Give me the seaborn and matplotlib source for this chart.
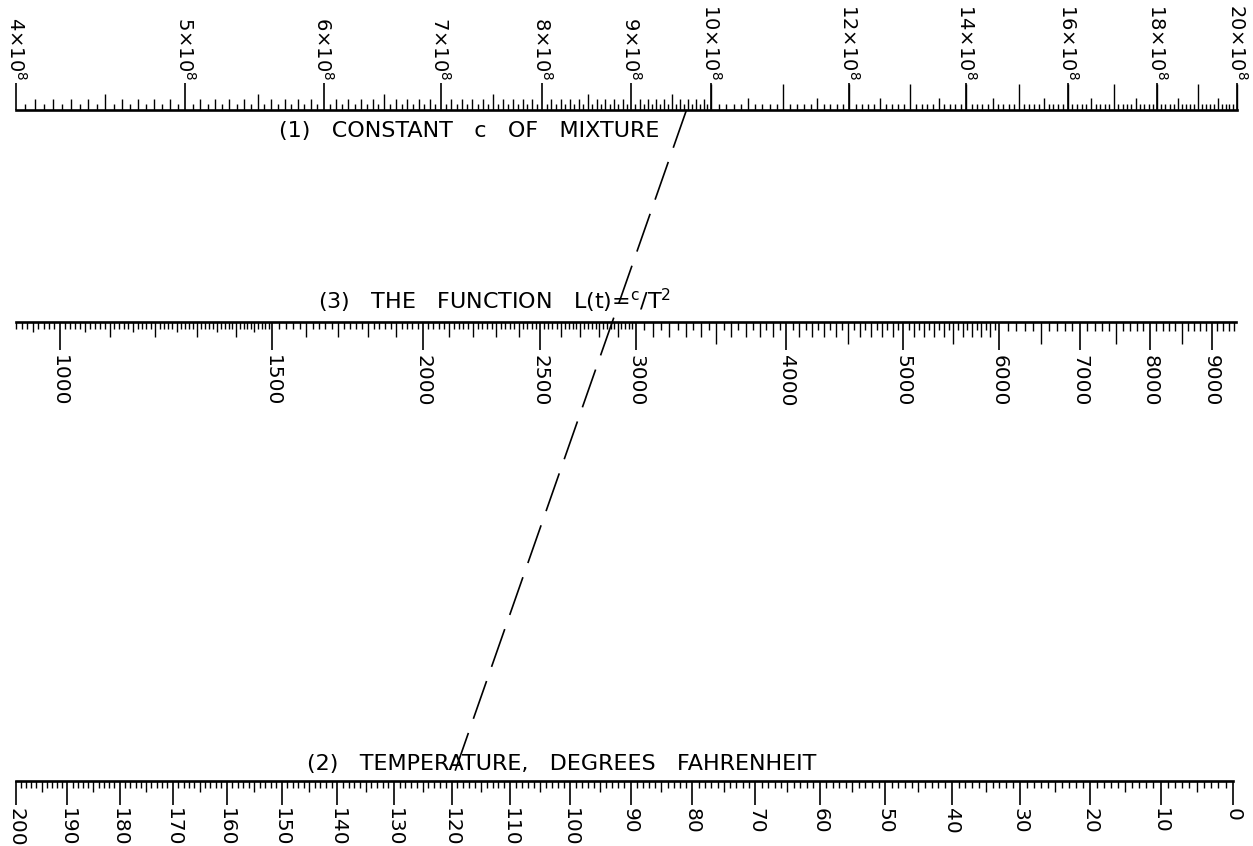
import numpy as np
import pandas as pd
import matplotlib
matplotlib.use("Agg")
import matplotlib.pyplot as plt
from matplotlib.ticker import NullLocator
import seaborn as sns

# ---------------- data ----------------
# Scale (1): constant c of mixture, in units of 10^8, log scale
C_LABELS = [4, 5, 6, 7, 8, 9, 10, 12, 14, 16, 18, 20]
C_LIMITS = [4, 20]
# Scale (3): the function L(t) = c / T^2, log scale
L_LABELS = [1000, 1500, 2000, 2500, 3000, 4000, 5000, 6000, 7000, 8000, 9000]
L_LIMITS = [920, 9430]
# Scale (2): temperature, degrees Fahrenheit (scale ~ log of absolute temperature)
T_LABELS = [200, 190, 180, 170, 160, 150, 140, 130, 120, 110, 100,
            90, 80, 70, 60, 50, 40, 30, 20, 10, 0]
T_LIMITS = [200, 0]
# the worked example drawn as a dashed isopleth
C_KEY = 9.68     # x 10^8
T_KEY = 120      # deg F

TITLE_1 = "(1)   CONSTANT   c   OF   MIXTURE"
TITLE_3 = "(3)   THE   FUNCTION   L(t)=$^{c}$/T$^{2}$"
TITLE_2 = "(2)   TEMPERATURE,   DEGREES   FAHRENHEIT"

# ---------------- style ----------------
sns.set_theme(style="white")
plt.rcParams["font.family"] = ["DejaVu Sans"]
plt.rcParams["mathtext.default"] = "regular"
plt.rcParams["text.color"] = "black"

W, H = 1253, 846
fig = plt.figure(figsize=(W / 100, H / 100), dpi=100)
fig.patch.set_facecolor("white")

AX_H = 40  # px height of each strip


def make_strip(left, right, line_y, up):
    bottom = H - line_y if up else H - line_y - AX_H
    ax = fig.add_axes([left / W, bottom / H, (right - left) / W, AX_H / H])
    ax.set_facecolor("none")
    for s in ax.spines.values():
        s.set_visible(False)
    sp = ax.spines["bottom" if up else "top"]
    sp.set_visible(True)
    sp.set_linewidth(1.9)
    sp.set_color("black")
    if up:
        ax.set_ylim(0, AX_H)
    else:
        ax.set_ylim(AX_H, 0)
    ax.grid(False)
    return ax


def clear_ticks(ax):
    for axis in (ax.xaxis, ax.yaxis):
        axis.set_major_locator(NullLocator())
        axis.set_minor_locator(NullLocator())
    ax.tick_params(which="both", bottom=False, top=False, left=False, right=False,
                   labelbottom=False, labeltop=False, labelleft=False, labelright=False)


def ticks(ax, values, length, lw=1.0):
    ax.vlines(values, 0, length, colors="black", linewidth=lw, clip_on=False)


# ---------------- scale (1) ----------------
ax1 = make_strip(16, 1237, 110, up=True)
ax1.set_xscale("log")
ax1.set_xlim(*C_LIMITS)
clear_ticks(ax1)
g = np.arange(400, 1001, 5)          # hundredths of 10^8, 4..10 every 0.05
ticks(ax1, g[g % 10 != 0] / 100, 6)
ticks(ax1, g[(g % 10 == 0) & (g % 50 != 0)] / 100, 11)
ticks(ax1, g[(g % 50 == 0) & (g % 100 != 0)] / 100, 16)
g = np.arange(1000, 2001, 10)        # 10..20 every 0.1
ticks(ax1, g[g % 50 != 0] / 100, 6)
ticks(ax1, g[(g % 50 == 0) & (g % 100 != 0)] / 100, 12)
ticks(ax1, g[(g % 100 == 0)] / 100, 26)
ticks(ax1, C_LABELS, 27, lw=1.2)
for v in C_LABELS:
    ax1.text(v, 30, f"{v}×10$^{{8}}$", rotation=-90, ha="center", va="bottom",
             fontsize=14, color="black")

# ---------------- scale (3) ----------------
ax3 = make_strip(16, 1236, 322, up=False)
ax3.set_xscale("log")
ax3.set_xlim(*L_LIMITS)
clear_ticks(ax3)
g = np.arange(920, 1500, 10)
ticks(ax3, g[g % 50 != 0], 7)
ticks(ax3, g[(g % 50 == 0) & (g % 100 != 0)], 10)
g = np.arange(1500, 3000, 20)
ticks(ax3, g[g % 100 != 0], 7)
g = np.arange(3000, 6000, 50)
ticks(ax3, g[g % 100 != 0], 8)
g = np.arange(6000, 9431, 100)
ticks(ax3, g[g % 500 != 0], 9)
g = np.arange(1000, 6001, 100)
ticks(ax3, g[g % 500 != 0], 15)
g = np.arange(1000, 9431, 500)
ticks(ax3, g[~np.isin(g, L_LABELS)], 22)
ticks(ax3, L_LABELS, 28, lw=1.2)
for v in L_LABELS:
    ax3.text(v, 33, f"{v}", rotation=-90, ha="center", va="top",
             fontsize=14.5, color="black")

# ---------------- scale (2) ----------------
ax2 = make_strip(16, 1233, 781, up=False)
ax2.set_xscale("function", functions=(lambda f: np.log10(np.asarray(f, float) + 460.0),
                                       lambda y: 10.0 ** np.asarray(y, float) - 460.0))
ax2.set_xlim(*T_LIMITS)
clear_ticks(ax2)
g = np.arange(0, 201, 1)
ticks(ax2, g[g % 5 != 0], 7)
ticks(ax2, g[(g % 5 == 0) & (g % 10 != 0)], 11)
ticks(ax2, T_LABELS, 24, lw=1.2)
for v in T_LABELS:
    ax2.text(v, 27, f"{v}", rotation=-90, ha="center", va="top",
             fontsize=14.5, color="black")

# ---------------- titles ----------------
fig.text(469 / W, 1 - 131 / H, TITLE_1, ha="center", va="center", fontsize=16, color="black")
fig.text(495 / W, 1 - 301 / H, TITLE_3, ha="center", va="center", fontsize=16, color="black")
fig.text(562 / W, 1 - 764 / H, TITLE_2, ha="center", va="center", fontsize=16, color="black")

# ---------------- dashed isopleth through the three scales ----------------
ov = fig.add_axes([0, 0, 1, 1])
ov.set_xlim(0, W)
ov.set_ylim(0, H)
ov.axis("off")
ov.patch.set_visible(False)
p_top = ax1.transData.transform((C_KEY, 0))
p_bot = ax2.transData.transform((T_KEY, 0))
pts = ov.transData.inverted().transform(np.vstack([p_top, p_bot]))
iso = pd.DataFrame({"x": pts[:, 0], "y": pts[:, 1]})
sns.lineplot(data=iso, x="x", y="y", sort=False, ax=ov, color="black",
             linewidth=1.2, linestyle=(0, (24, 9)))
ov.set_xlabel("")
ov.set_ylabel("")

fig.savefig("out.png", dpi=100, facecolor="white")
